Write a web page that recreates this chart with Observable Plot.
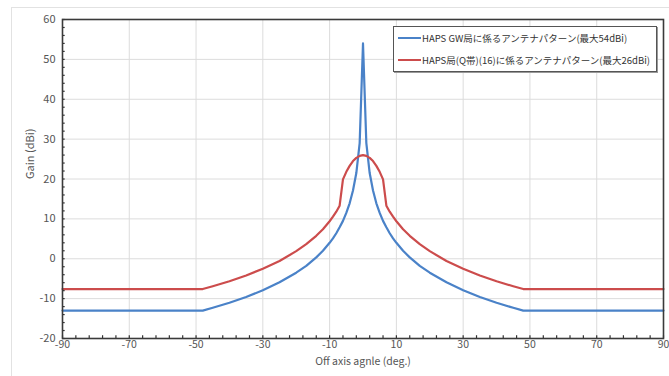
<!DOCTYPE html>
<html>
<head>
<meta charset="utf-8">
<script src="https://cdn.jsdelivr.net/npm/d3@7"></script>
<script src="https://cdn.jsdelivr.net/npm/@observablehq/plot@0.6"></script>
<style>
  body { margin: 0; background: #fff; }
  #wrap { position: relative; width: 669px; height: 376px; overflow: hidden; font-family: "Noto Sans CJK JP", "Noto Sans", sans-serif; }
  #border { position: absolute; left: 11px; top: 7px; width: 700px; height: 400px; border: 1px solid #e2e2e2; pointer-events: none; }
  #legend { position: absolute; left: 393px; top: 26px; width: 262px; height: 44px; border: 1px solid #555; background: #fff; box-shadow: 1px 1px 0 #999; font-size: 9.5px; color: #333; }
  .row { position: absolute; left: 4px; height: 14px; display: flex; align-items: center; white-space: nowrap; }
  .sw { display: inline-block; width: 23px; height: 0; border-top: 2.5px solid; margin-right: 1px; }
</style>
</head>
<body>
<div id="wrap">
  <div id="chart"></div>
  <div id="border"></div>
  <div id="legend"></div>
</div>
<script>
// Off-axis angles (deg.)
const angles = [-90,-48,-45,-40,-35,-30,-25,-20,-17,-14,-12,-10,-9,-8,-7,-6,-5,-4,-3,-2,-1,
                0,
                1,2,3,4,5,6,7,8,9,10,12,14,17,20,25,30,35,40,45,48,90];
// HAPS GW station antenna pattern (max 54 dBi)
const gainGW = [-13,-13,-12.3,-11.05,-9.6,-7.9,-5.9,-3.5,-1.8,0.35,2,4,5.1,6.4,7.9,9.5,11.5,13.9,17.1,21.5,29,
                54,
                29,21.5,17.1,13.9,11.5,9.5,7.9,6.4,5.1,4,2,0.35,-1.8,-3.5,-5.9,-7.9,-9.6,-11.05,-12.3,-13,-13];
// HAPS station (Q band) antenna pattern (max 26 dBi)
const gainQ = [-7.6,-7.6,-6.9,-5.65,-4.2,-2.5,-0.55,1.9,3.65,5.75,7.4,9.4,10.55,11.8,13.3,19.9,21.8,23.3,24.5,25.3,25.8,
               26,
               25.8,25.3,24.5,23.3,21.8,19.9,13.3,11.8,10.55,9.4,7.4,5.75,3.65,1.9,-0.55,-2.5,-4.2,-5.65,-6.9,-7.6,-7.6];
const seriesNames = ["HAPS GW局に係るアンテナパターン(最大54dBi)", "HAPS局(Q帯)(16)に係るアンテナパターン(最大26dBi)"];
const seriesColors = ["#4a82c8", "#cc4c4c"];
const xTicks = [-90,-70,-50,-30,-10,10,30,50,70,90];
const yTicks = [-20,-10,0,10,20,30,40,50,60];
const xMinor = d3.range(-90, 90.1, 4);
const yMinor = d3.range(-20, 60.1, 2);
const xTitle = "Off axis agnle (deg.)";
const yTitle = "Gain (dBi)";

const data = [];
angles.forEach((a, i) => {
  data.push({angle: a, gain: gainGW[i], series: seriesNames[0]});
  data.push({angle: a, gain: gainQ[i], series: seriesNames[1]});
});

const chart = Plot.plot({
  width: 669,
  height: 376,
  marginLeft: 62,
  marginRight: 6,
  marginTop: 19,
  marginBottom: 38,
  style: {fontFamily: "'Noto Sans CJK JP', 'Noto Sans', sans-serif", fontSize: "11px", color: "#555", background: "transparent"},
  x: {domain: [-90, 90], ticks: xTicks, label: null},
  y: {domain: [-20, 60], ticks: yTicks, label: null},
  color: {domain: seriesNames, range: seriesColors},
  marks: [
    Plot.gridX(xTicks, {stroke: "#dcdcdc", strokeOpacity: 1}),
    Plot.gridY(yTicks, {stroke: "#dcdcdc", strokeOpacity: 1}),
    Plot.line(data, {x: "angle", y: "gain", z: "series", stroke: "series", strokeWidth: 2.2}),
    Plot.ruleX(xMinor, {x: d => d, y1: -20, y2: -19.3, stroke: "#333", strokeWidth: 1.2}),
    Plot.ruleY(yMinor, {y: d => d, x1: -90, x2: -89.2, stroke: "#333", strokeWidth: 1.2}),
    Plot.frame({stroke: "#3a3a3a", strokeWidth: 1.6}),
    Plot.axisX(xTicks, {tickSize: 0, tickPadding: 2, fill: "#555", fontSize: 10.5, label: null, tickFormat: d => String(d)}),
    Plot.axisY(yTicks, {tickSize: 0, tickPadding: 7, fill: "#555", fontSize: 11, label: null, tickFormat: d => String(d)}),
    Plot.text([xTitle], {frameAnchor: "bottom", lineAnchor: "top", dy: 19, fill: "#555", fontSize: 10.5}),
    Plot.text([yTitle], {frameAnchor: "left", dx: -32, rotate: -90, fill: "#555", fontSize: 11})
  ]
});
document.getElementById("chart").appendChild(chart);

const legend = document.getElementById("legend");
seriesNames.forEach((name, i) => {
  const row = document.createElement("div");
  row.className = "row";
  row.style.top = (4 + i * 22) + "px";
  const sw = document.createElement("span");
  sw.className = "sw";
  sw.style.borderTopColor = seriesColors[i];
  const tx = document.createElement("span");
  tx.textContent = name;
  row.appendChild(sw);
  row.appendChild(tx);
  legend.appendChild(row);
});
</script>
</body>
</html>
